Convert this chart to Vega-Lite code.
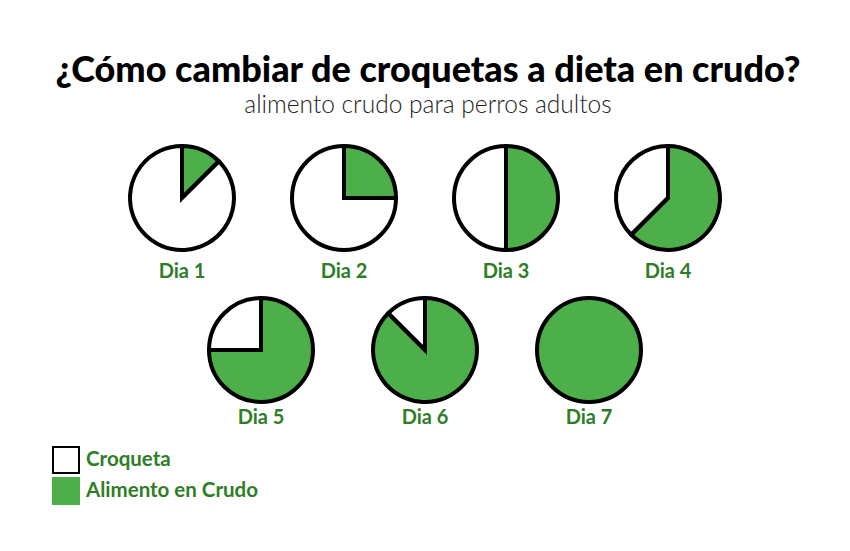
{
  "$schema": "https://vega.github.io/schema/vega-lite/v6.json",
  "padding": {"left": 52, "top": 52, "right": 10, "bottom": 10},
  "background": "white",
  "title": {
    "text": "¿Cómo cambiar de croquetas a dieta en crudo?",
    "subtitle": "alimento crudo para perros adultos",
    "anchor": "middle",
    "dx": 38,
    "font": "Lato",
    "fontSize": 36,
    "fontWeight": 900,
    "color": "#000000",
    "subtitleFont": "Lato",
    "subtitleFontSize": 24.5,
    "subtitleFontWeight": 300,
    "subtitleColor": "#222222",
    "subtitlePadding": 4,
    "offset": 20
  },
  "data": {
    "values": [
      {"dia": "Dia 1", "tipo": "Alimento en Crudo", "pct": 12.5},
      {"dia": "Dia 1", "tipo": "Croqueta", "pct": 87.5},
      {"dia": "Dia 2", "tipo": "Alimento en Crudo", "pct": 25},
      {"dia": "Dia 2", "tipo": "Croqueta", "pct": 75},
      {"dia": "Dia 3", "tipo": "Alimento en Crudo", "pct": 50},
      {"dia": "Dia 3", "tipo": "Croqueta", "pct": 50},
      {"dia": "Dia 4", "tipo": "Alimento en Crudo", "pct": 62.5},
      {"dia": "Dia 4", "tipo": "Croqueta", "pct": 37.5},
      {"dia": "Dia 5", "tipo": "Alimento en Crudo", "pct": 75},
      {"dia": "Dia 5", "tipo": "Croqueta", "pct": 25},
      {"dia": "Dia 6", "tipo": "Alimento en Crudo", "pct": 87.5},
      {"dia": "Dia 6", "tipo": "Croqueta", "pct": 12.5},
      {"dia": "Dia 7", "tipo": "Alimento en Crudo", "pct": 100}
    ]
  },
  "center": true,
  "spacing": 8,
  "vconcat": [
    {
      "transform": [{"filter": {"field": "dia", "oneOf": ["Dia 1", "Dia 2", "Dia 3", "Dia 4"]}}],
      "facet": {
        "column": {
          "field": "dia",
          "title": null,
          "header": {"labelOrient": "bottom", "labelFont": "Lato", "labelFontSize": 20, "labelFontWeight": "bold", "labelColor": "#2E7D27", "labelPadding": 4}
        }
      },
      "spacing": 42,
      "spec": {
        "width": 110,
        "height": 110,
        "layer": [
          {
            "mark": {"type": "arc", "outerRadius": 52, "strokeWidth": 2},
            "encoding": {
              "theta": {"field": "pct", "type": "quantitative", "stack": true},
              "order": {"field": "tipo", "sort": "ascending"},
              "color": {
                "field": "tipo",
                "type": "nominal",
                "scale": {"domain": ["Croqueta", "Alimento en Crudo"], "range": ["#FFFFFF", "#4CAF4A"]},
                "legend": {
                  "title": null,
                  "orient": "none",
                  "legendX": -75,
                  "legendY": 303,
                  "direction": "vertical",
                  "symbolType": "square",
                  "symbolSize": 676,
                  "symbolStrokeWidth": 2,
                  "labelFont": "Lato",
                  "labelFontSize": 20.5,
                  "labelFontWeight": "bold",
                  "labelColor": "#2E7D27",
                  "labelOffset": 6,
                  "labelLimit": 400,
                  "rowPadding": -4,
                  "padding": 0
                }
              },
              "stroke": {
                "field": "tipo",
                "type": "nominal",
                "scale": {"domain": ["Croqueta", "Alimento en Crudo"], "range": ["#000000", "#4CAF4A"]},
                "legend": {
                  "title": null,
                  "orient": "none",
                  "legendX": -75,
                  "legendY": 303,
                  "direction": "vertical",
                  "symbolType": "square",
                  "symbolSize": 676,
                  "symbolStrokeWidth": 2,
                  "labelFont": "Lato",
                  "labelFontSize": 20.5,
                  "labelFontWeight": "bold",
                  "labelColor": "#2E7D27",
                  "labelOffset": 6,
                  "labelLimit": 400,
                  "rowPadding": -4,
                  "padding": 0
                }
              }
            }
          },
          {
            "mark": {"type": "arc", "outerRadius": 52, "fillOpacity": 0, "stroke": "#000000", "strokeWidth": 4, "strokeJoin": "miter"},
            "encoding": {
              "theta": {"field": "pct", "type": "quantitative", "stack": true},
              "order": {"field": "tipo", "sort": "ascending"},
              "detail": {"field": "tipo", "type": "nominal"}
            }
          }
        ]
      }
    },
    {
      "transform": [{"filter": {"field": "dia", "oneOf": ["Dia 5", "Dia 6", "Dia 7"]}}],
      "facet": {
        "column": {
          "field": "dia",
          "title": null,
          "header": {"labelOrient": "bottom", "labelFont": "Lato", "labelFontSize": 20, "labelFontWeight": "bold", "labelColor": "#2E7D27", "labelPadding": -2}
        }
      },
      "spacing": 44,
      "spec": {
        "width": 110,
        "height": 110,
        "layer": [
          {
            "mark": {"type": "arc", "outerRadius": 52, "strokeWidth": 2},
            "encoding": {
              "theta": {"field": "pct", "type": "quantitative", "stack": true},
              "order": {"field": "tipo", "sort": "ascending"},
              "color": {
                "field": "tipo",
                "type": "nominal",
                "scale": {"domain": ["Croqueta", "Alimento en Crudo"], "range": ["#FFFFFF", "#4CAF4A"]},
                "legend": null
              },
              "stroke": {
                "field": "tipo",
                "type": "nominal",
                "scale": {"domain": ["Croqueta", "Alimento en Crudo"], "range": ["#000000", "#4CAF4A"]},
                "legend": null
              }
            }
          },
          {
            "mark": {"type": "arc", "outerRadius": 52, "fillOpacity": 0, "stroke": "#000000", "strokeWidth": 4, "strokeJoin": "miter"},
            "encoding": {
              "theta": {"field": "pct", "type": "quantitative", "stack": true},
              "order": {"field": "tipo", "sort": "ascending"},
              "detail": {"field": "tipo", "type": "nominal"}
            }
          }
        ]
      }
    }
  ],
  "config": {
    "view": {"stroke": null}
  }
}
